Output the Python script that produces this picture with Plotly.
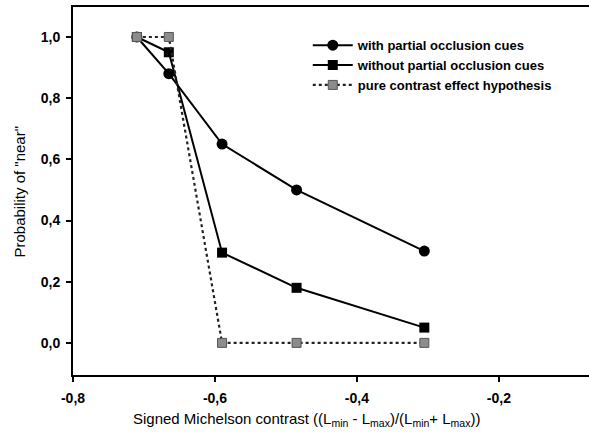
import plotly.graph_objects as go

contrast = [-0.71, -0.665, -0.59, -0.485, -0.305]
with_cues = [1.0, 0.88, 0.65, 0.50, 0.30]
without_cues = [1.0, 0.95, 0.295, 0.18, 0.05]
pure_contrast = [1.0, 1.0, 0.0, 0.0, 0.0]

x_ticks = [-0.8, -0.6, -0.4, -0.2]
x_ticklabels = ["-0,8", "-0,6", "-0,4", "-0,2"]
y_ticks = [0.0, 0.2, 0.4, 0.6, 0.8, 1.0]
y_ticklabels = ["0,0", "0,2", "0,4", "0,6", "0,8", "1,0"]

FONT = "Liberation Sans, Arial, sans-serif"

fig = go.Figure()
fig.add_trace(go.Scatter(
    x=contrast, y=with_cues, mode="lines+markers",
    name="with partial occlusion cues",
    line=dict(color="black", width=2),
    marker=dict(symbol="circle", size=11, color="black"),
))
fig.add_trace(go.Scatter(
    x=contrast, y=without_cues, mode="lines+markers",
    name="without partial occlusion cues",
    line=dict(color="black", width=2),
    marker=dict(symbol="square", size=10, color="black"),
))
fig.add_trace(go.Scatter(
    x=contrast, y=pure_contrast, mode="lines+markers",
    name="pure contrast effect hypothesis",
    line=dict(color="#222222", width=2.2, dash="dot"),
    marker=dict(symbol="square", size=9, color="#8c8c8c",
                line=dict(color="#555555", width=1)),
))

fig.update_layout(
    width=589, height=441,
    margin=dict(l=73, r=0, t=7, b=66),
    paper_bgcolor="white", plot_bgcolor="white",
    showlegend=True,
    legend=dict(
        x=0.455, y=0.937, xanchor="left", yanchor="top",
        bgcolor="rgba(0,0,0,0)",
        font=dict(family=FONT, size=13, color="black", weight="bold"),
        tracegroupgap=0, itemwidth=40,
    ),
    xaxis=dict(
        range=[-0.8, -0.073],
        tickvals=x_ticks, ticktext=x_ticklabels,
        showgrid=False, zeroline=False,
        showline=True, linecolor="black", linewidth=2, mirror=True,
        ticks="outside", ticklen=5, tickwidth=1.5, tickcolor="black",
        ticklabelstandoff=4,
        tickfont=dict(family=FONT, size=14, color="black", weight="bold"),
    ),
    yaxis=dict(
        range=[-0.105, 1.098],
        tickvals=y_ticks, ticktext=y_ticklabels,
        showgrid=False, zeroline=False,
        showline=True, linecolor="black", linewidth=2,
        ticks="outside", ticklen=5, tickwidth=1.5, tickcolor="black",
        ticklabelstandoff=3,
        tickfont=dict(family=FONT, size=14, color="black", weight="bold"),
    ),
    annotations=[
        dict(text="Signed Michelson contrast ((L<sub>min</sub> - L<sub>max</sub>)/(L<sub>min</sub>+ L<sub>max</sub>))",
             xref="paper", yref="paper", x=0.4516, y=-0.122,
             xanchor="center", yanchor="middle", showarrow=False,
             font=dict(family=FONT, size=15, color="black")),
        dict(text='Probability of "near"',
             xref="paper", yref="paper", x=-0.1027, y=0.4986,
             xanchor="center", yanchor="middle", showarrow=False, textangle=-90,
             font=dict(family=FONT, size=15, color="black")),
    ],
)

fig.write_html("out.html")
